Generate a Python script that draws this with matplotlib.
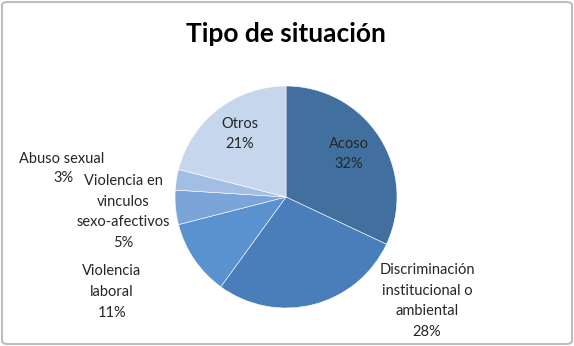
import matplotlib
matplotlib.use("Agg")
import matplotlib.pyplot as plt
from matplotlib.patches import FancyBboxPatch

categories = ["Acoso", "Discriminación\ninstitucional o\nambiental", "Violencia\nlaboral",
              "Violencia en\nvinculos\nsexo-afectivos", "Abuso sexual", "Otros"]
values = [32, 28, 11, 5, 3, 21]
colors = ["#41709F", "#4A7EBB", "#5A92CF", "#7BA5D8", "#A3BEE3", "#C6D6EC"]
# label centre positions in figure pixels (x, y from top)
label_pos = [(349, 154), (427, 301), (112, 292), (123, 212), (62, 159), (240, 134)]

W, H = 574, 346
fig = plt.figure(figsize=(W / 100, H / 100), dpi=100)
fig.patch.set_facecolor("white")
plt.rcParams['font.family'] = ['Lato', 'DejaVu Sans']

border = FancyBboxPatch((2 / W, 2 / H), (W - 4) / W, (H - 4) / H,
                        boxstyle="round,pad=0,rounding_size=0.01",
                        transform=fig.transFigure, facecolor="none",
                        edgecolor="#BDBDBD", linewidth=1.5, zorder=-1)
fig.patches.append(border)

cx, cy, r = 286, 197, 111
ax = fig.add_axes([(cx - r) / W, (H - cy - r) / H, 2 * r / W, 2 * r / H])
ax.pie(values, colors=colors, startangle=90, counterclock=False, radius=1,
       wedgeprops=dict(edgecolor="white", linewidth=0.4))
ax.set_xlim(-1, 1)
ax.set_ylim(-1, 1)
ax.axis("off")

fig.text(286 / W, 1 - 42 / H, "Tipo de situación", ha="center", va="baseline",
         fontsize=19, fontweight="bold", color="black")

tkw = dict(ha="center", va="center", fontsize=10.5, color="#262626", linespacing=1.6)
for cat, v, (x, y) in zip(categories, values, label_pos):
    if cat == "Abuso sexual":
        fig.text(x / W, 1 - y / H, cat, **tkw)
        fig.text((x + 1) / W, 1 - (y + 19) / H, f"{v}%", **tkw)
    else:
        fig.text(x / W, 1 - y / H, f"{cat}\n{v}%", **tkw)

fig.savefig("out.png", dpi=100)
